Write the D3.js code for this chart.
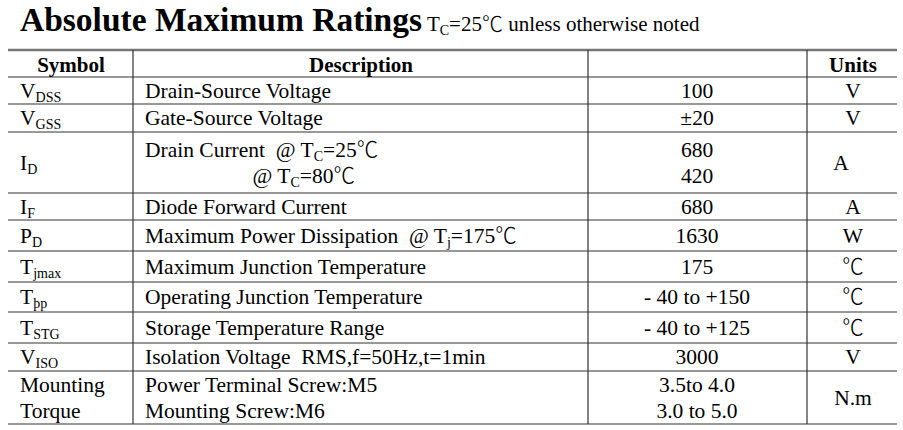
<!DOCTYPE html>
<html><head><meta charset="utf-8">
<script src="https://cdn.jsdelivr.net/npm/d3@7"></script>
<style>body{margin:0;background:#fff}svg{display:block}text{font-family:"Liberation Serif","Times New Roman",serif;fill:#000}.cj{font-family:"Noto Sans CJK SC",sans-serif;font-weight:300}</style>
</head><body><svg id="c" width="903" height="430"></svg>
<script>
const headers = ["Symbol","Description","","Units"];
const symbols = [["V","DSS"],["V","GSS"],["I","D"],["I","F"],["P","D"],["T","jmax"],["T","ϸp"],["T","STG"],["V","ISO"],["Mounting\nTorque",""]];
const descriptions = [
 [["Drain-Source Voltage"]],
 [["Gate-Source Voltage"]],
 [["Drain Current  @ T",["C"],"=25","℃"],["                    @ T",["C"],"=80","℃"]],
 [["Diode Forward Current"]],
 [["Maximum Power Dissipation  @ T",["j"],"=175","℃"]],
 [["Maximum Junction Temperature"]],
 [["Operating Junction Temperature"]],
 [["Storage Temperature Range"]],
 [["Isolation Voltage  RMS,f=50Hz,t=1min"]],
 [["Power Terminal Screw:M5"],["Mounting Screw:M6"]]
];
const values = [["100"],["±20"],["680","420"],["680"],["1630"],["175"],["- 40 to +150"],["- 40 to +125"],["3000"],["3.5to 4.0","3.0 to 5.0"]];
const units = ["V","V","A","A","W","℃","℃","℃","V","N.m"];
const rowBounds = [50,77,104,132,193,220,251,282,312,343,371,424];
const colBounds = [8,133,588,807,897];

const svg = d3.select("#c");
const fs = 21.5;
function addParts(text, parts){
  let sub=false;
  parts.forEach(p=>{
    if(Array.isArray(p)){ text.append("tspan").attr("font-size",14).attr("dy",4).text(p[0]); sub=true; }
    else {
      const ts=text.append("tspan").text(p);
      if(p==="℃") ts.attr("class","cj");
      if(sub){ ts.attr("dy",-4); sub=false; }
    }
  });
}
// title
const t = svg.append("text").attr("x",20).attr("y",31).style("white-space","pre");
t.append("tspan").text("Absolute Maximum Ratings").attr("font-size",33.5).attr("font-weight","bold");
const t2 = t.append("tspan").attr("font-size",21);
addParts(t, [" T",["C"],"=25","℃"," unless otherwise noted"]);
t.selectAll("tspan:not(:first-child)").each(function(){ if(!this.getAttribute("font-size")) this.setAttribute("font-size",21); });

// lines
const g = svg.append("g");
rowBounds.forEach((y,i)=>g.append("line").attr("x1",colBounds[0]).attr("x2",colBounds[4]).attr("y1",y).attr("y2",y)
  .attr("stroke", i===0?"#777":"#333").attr("stroke-width", i===0?2.5:1.2));
[1,2,3].forEach(i=>g.append("line").attr("x1",colBounds[i]).attr("x2",colBounds[i]).attr("y1",rowBounds[0]).attr("y2",rowBounds[rowBounds.length-1]).attr("stroke","#333").attr("stroke-width",1.2));

// header
const hx = [71,361,697,853];
headers.forEach((h,i)=>svg.append("text").attr("x",hx[i]).attr("y",72).attr("text-anchor","middle").attr("font-size",21).attr("font-weight","bold").text(h));

symbols.forEach((s,r)=>{
  const y0=rowBounds[r+1], y1=rowBounds[r+2], mid=(y0+y1)/2;
  if(s[1]===""){
    s[0].split("\n").forEach((ln,k)=>svg.append("text").attr("x",20).attr("y",mid-13+k*26+7).attr("font-size",fs).text(ln));
  } else {
    const st=svg.append("text").attr("x",20).attr("y",mid+7).attr("font-size",fs);
    st.append("tspan").text(s[0]);
    st.append("tspan").attr("font-size",14).attr("dy",4).text(s[1]);
  }
  const n=descriptions[r].length;
  descriptions[r].forEach((d,k)=>{
    const yy = n===1? mid+7 : mid-13+k*26+7;
    const dt=svg.append("text").attr("x",145).attr("y",yy).attr("font-size",fs).style("white-space","pre");
    addParts(dt,d);
  });
  values[r].forEach((v,k)=>{
    const yy = values[r].length===1? mid+7 : mid-13+k*26+7;
    svg.append("text").attr("x",697).attr("y",yy).attr("text-anchor","middle").attr("font-size",fs).text(v);
  });
  svg.append("text").attr("x", r===2?841:853).attr("y",mid+7).attr("text-anchor","middle").attr("font-size",fs)
    .attr("class", units[r]==="℃"?"cj":null).text(units[r]);
});
</script></body></html>
